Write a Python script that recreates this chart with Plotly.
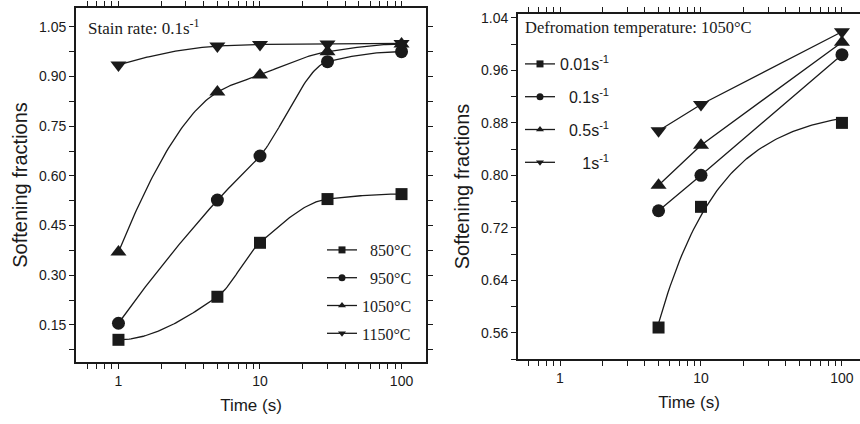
import numpy as np
import plotly.graph_objects as go

# ---- left panel: softening vs time at strain rate 0.1 s^-1 ----
times_a = [1, 5, 10, 30, 100]
temps = ["850°C", "950°C", "1050°C", "1150°C"]
soft_850 = [0.105, 0.235, 0.398, 0.530, 0.545]
soft_950 = [0.155, 0.527, 0.660, 0.945, 0.975]
soft_1050 = [0.370, 0.853, 0.905, 0.975, 0.998]
soft_1150 = [0.935, 0.992, 0.997, 0.998, 1.000]

# ---- right panel: softening vs time at 1050 °C ----
times_b = [5, 10, 100]
rates = ["0.01s<sup>-1</sup>", "0.1s<sup>-1</sup>", "0.5s<sup>-1</sup>", "1s<sup>-1</sup>"]
soft_001 = [0.568, 0.752, 0.880]
soft_01 = [0.746, 0.800, 0.984]
soft_05 = [0.785, 0.846, 1.003]
soft_1 = [0.868, 0.908, 1.019]

INK = "#1a1a1a"
SANS = "Liberation Sans, Arial, sans-serif"
SERIF = "Liberation Serif, Times New Roman, serif"
symbols = ["square", "circle", "triangle-up", "triangle-down"]
sizes = [12, 13, 14, 14]


def pchip(xk, yk, xq):
    """Monotone piecewise-cubic (Fritsch-Carlson) interpolation."""
    xk = np.asarray(xk, float)
    yk = np.asarray(yk, float)
    h = np.diff(xk)
    d = np.diff(yk) / h
    n = len(xk)
    m = np.zeros(n)
    for k in range(1, n - 1):
        if d[k - 1] * d[k] > 0:
            w1 = 2 * h[k] + h[k - 1]
            w2 = h[k] + 2 * h[k - 1]
            m[k] = (w1 + w2) / (w1 / d[k - 1] + w2 / d[k])

    def end_slope(h0, h1, d0, d1):
        s = ((2 * h0 + h1) * d0 - h0 * d1) / (h0 + h1)
        if np.sign(s) != np.sign(d0):
            return 0.0
        if np.sign(d0) != np.sign(d1) and abs(s) > 3 * abs(d0):
            return 3 * d0
        return s

    m[0] = end_slope(h[0], h[1], d[0], d[1])
    m[-1] = end_slope(h[-1], h[-2], d[-1], d[-2])
    idx = np.clip(np.searchsorted(xk, xq) - 1, 0, n - 2)
    t = (xq - xk[idx]) / h[idx]
    h00 = 2 * t**3 - 3 * t**2 + 1
    h10 = t**3 - 2 * t**2 + t
    h01 = -2 * t**3 + 3 * t**2
    h11 = t**3 - t**2
    return (h00 * yk[idx] + h10 * h[idx] * m[idx]
            + h01 * yk[idx + 1] + h11 * h[idx] * m[idx + 1])


fig = go.Figure()

# left panel: smooth monotone curves (in log time) and markers
log_ta = np.log10(times_a)
u = np.linspace(log_ta[0], log_ta[-1], 160)
left_series = [soft_850, soft_950, soft_1050, soft_1150]
for vals, sym, sz in zip(left_series, symbols, sizes):
    fig.add_trace(go.Scatter(
        x=10**u, y=pchip(log_ta, vals, u), mode="lines", xaxis="x", yaxis="y",
        line=dict(color=INK, width=1.3), showlegend=False, hoverinfo="skip"))
    fig.add_trace(go.Scatter(
        x=times_a, y=vals, mode="markers", xaxis="x", yaxis="y",
        marker=dict(symbol=sym, size=sz, color=INK),
        showlegend=False, hoverinfo="skip"))

# right panel: 0.01 s^-1 markers plus a least-squares y = a + b/t curve
fig.add_trace(go.Scatter(
    x=times_b, y=soft_001, mode="markers", xaxis="x2", yaxis="y2",
    marker=dict(symbol="square", size=12, color=INK),
    showlegend=False, hoverinfo="skip"))
b_coef, a_coef = np.polyfit(1.0 / np.array(times_b), np.array(soft_001), 1)
t_fit = np.geomspace(times_b[0], times_b[-1], 80)
fig.add_trace(go.Scatter(
    x=t_fit, y=a_coef + b_coef / t_fit, mode="lines", xaxis="x2", yaxis="y2",
    line=dict(color=INK, width=1.3), showlegend=False, hoverinfo="skip"))

for vals, sym, sz in zip([soft_01, soft_05, soft_1], symbols[1:], sizes[1:]):
    fig.add_trace(go.Scatter(
        x=times_b, y=vals, mode="lines+markers", xaxis="x2", yaxis="y2",
        line=dict(color=INK, width=1.3),
        marker=dict(symbol=sym, size=sz, color=INK),
        showlegend=False, hoverinfo="skip"))

# legend entries (small symbols on a short line)
NB = "\u00a0"
left_pad = [2, 2, 0, 0]
for name, sym, pad in zip(temps, symbols, left_pad):
    fig.add_trace(go.Scatter(
        x=[None], y=[None], mode="lines+markers", xaxis="x", yaxis="y",
        name=NB * pad + name, legend="legend", legendgroup=name,
        line=dict(color=INK, width=1.3),
        marker=dict(symbol=sym, size=7, color=INK)))

right_pad = [0, 2, 2, 5]
for name, sym, pad in zip(rates, symbols, right_pad):
    fig.add_trace(go.Scatter(
        x=[None], y=[None], mode="lines+markers", xaxis="x2", yaxis="y2",
        name=NB * pad + name, legend="legend2", legendgroup="r" + name,
        line=dict(color=INK, width=1.3),
        marker=dict(symbol=sym, size=7, color=INK)))

W, H = 860, 424
X_RANGE_A = [-0.30, 2.173]
X_RANGE_B = [-0.298, 2.128]
Y_RANGE_A = [0.038, 1.107]
Y_RANGE_B = [0.520, 1.046]

LOG_MINOR = [0.6, 0.7, 0.8, 0.9, 2, 3, 4, 5, 6, 7, 8, 9,
             20, 30, 40, 50, 60, 70, 80, 90]
MINOR_YA = [0.075, 0.225, 0.375, 0.525, 0.675, 0.825, 0.975]
MINOR_YB = [0.52, 0.60, 0.68, 0.76, 0.84, 0.92, 1.00]


def with_minor(major_vals, major_text, minor_vals):
    """Merge major and minor tick positions; minor ones carry no label."""
    vals = list(major_vals) + list(minor_vals)
    text = list(major_text) + [""] * len(minor_vals)
    return vals, text


def xaxis(domain, rng, anchor):
    vals, text = with_minor([1, 10, 100], ["1", "10", "100"], LOG_MINOR)
    return dict(
        type="log", domain=domain, range=rng, anchor=anchor,
        tickvals=vals, ticktext=text,
        ticks="outside", ticklen=5, tickwidth=1.2, tickcolor=INK,
        showline=True, linecolor=INK, linewidth=1.8, mirror="ticks",
        showgrid=False, zeroline=False, automargin=False,
        tickfont=dict(family=SANS, size=14, color=INK),
        title=dict(text="Time (s)", font=dict(family=SANS, size=17, color=INK),
                   standoff=11))


def yaxis(domain, rng, major, minor, anchor, mirror):
    vals, text = with_minor(major, [f"{v:.2f}" for v in major], minor)
    return dict(
        domain=domain, range=rng, anchor=anchor,
        tickvals=vals, ticktext=text,
        ticks="outside", ticklen=5, tickwidth=1.2, tickcolor=INK,
        showline=True, linecolor=INK, linewidth=1.8, mirror=mirror,
        showgrid=False, zeroline=False, automargin=False,
        tickfont=dict(family=SANS, size=14, color=INK),
        title=dict(text="Softening fractions",
                   font=dict(family=SANS, size=20, color=INK), standoff=6))


fig.update_layout(
    width=W, height=H, margin=dict(l=0, r=0, t=0, b=0),
    paper_bgcolor="white", plot_bgcolor="white",
    xaxis=xaxis([76 / W, 426 / W], X_RANGE_A, "y"),
    yaxis=yaxis([62 / H, 416 / H], Y_RANGE_A,
                [0.15, 0.30, 0.45, 0.60, 0.75, 0.90, 1.05], MINOR_YA, "x", "ticks"),
    xaxis2=xaxis([518 / W, 1.0], X_RANGE_B, "y2"),
    yaxis2=yaxis([65 / H, 410 / H], Y_RANGE_B,
                 [0.56, 0.64, 0.72, 0.80, 0.88, 0.96, 1.04], MINOR_YB, "x2", False),
    legend=dict(x=322 / W, y=1 - 233 / H, xanchor="left", yanchor="top",
                bgcolor="rgba(0,0,0,0)", tracegroupgap=4,
                font=dict(family=SERIF, size=16, color=INK)),
    legend2=dict(x=520 / W, y=1 - 47 / H, xanchor="left", yanchor="top",
                 bgcolor="rgba(0,0,0,0)", tracegroupgap=9,
                 font=dict(family=SANS, size=16, color=INK)),
    annotations=[
        dict(text="Stain rate: 0.1s<sup>-1</sup>", xref="paper", yref="paper",
             x=86 / W, y=1 - 27 / H, xanchor="left", yanchor="middle",
             showarrow=False, font=dict(family=SERIF, size=17, color=INK)),
        dict(text="Defromation temperature: 1050°C", xref="paper", yref="paper",
             x=523 / W, y=1 - 28 / H, xanchor="left", yanchor="middle",
             showarrow=False, font=dict(family=SERIF, size=16.5, color=INK)),
    ],
)

fig.write_html("out.html")
